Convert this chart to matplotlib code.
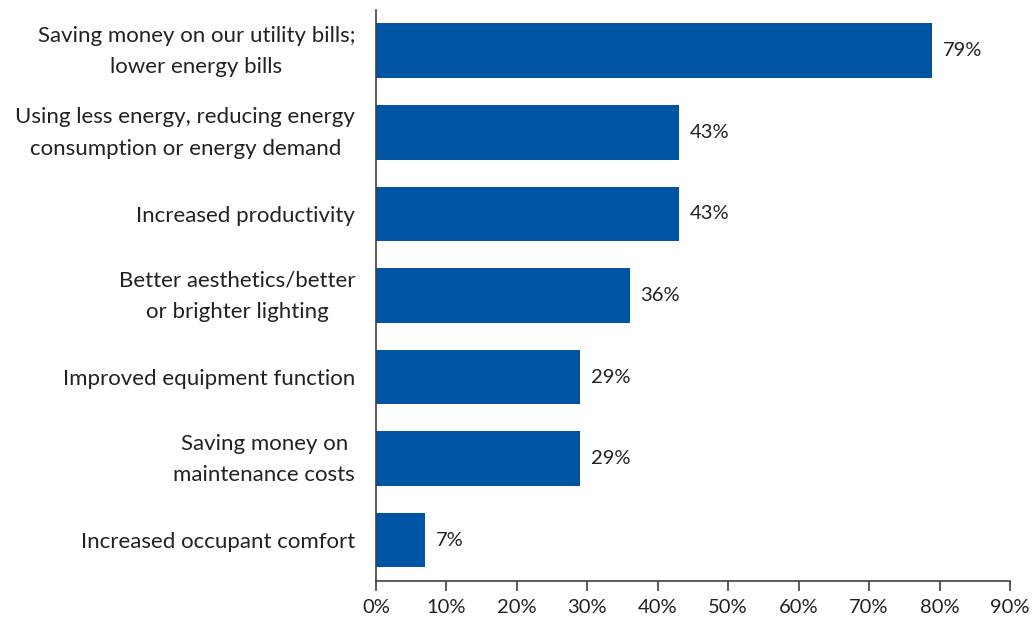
import matplotlib.pyplot as plt
from matplotlib.ticker import PercentFormatter
from matplotlib.transforms import ScaledTranslation

plt.rcParams['font.family'] = ['Lato', 'DejaVu Sans']

categories = [
    "Saving money on our utility bills;\nlower energy bills",
    "Using less energy, reducing energy\nconsumption or energy demand",
    "Increased productivity",
    "Better aesthetics/better\nor brighter lighting",
    "Improved equipment function",
    "Saving money on\nmaintenance costs",
    "Increased occupant comfort",
]
values = [79, 43, 43, 36, 29, 29, 7]
ticks = list(range(0, 100, 10))

fig = plt.figure(figsize=(10.35, 6.24), dpi=100)
ax = fig.add_axes([0.3633, 0.069, 0.6125, 0.915])

ypos = list(range(len(categories)))
bars = ax.barh(ypos, values, height=0.67, color="#0054A4")

for bar, v in zip(bars, values):
    ax.text(bar.get_width() + 1.5, bar.get_y() + bar.get_height() / 2, f"{v}%",
            va="center", ha="left", fontsize=14.5, color="#222222")

ax.set_ylim(len(categories) - 0.5, -0.5)
ax.set_xlim(0, 90)
ax.set_xticks(ticks)
ax.xaxis.set_major_formatter(PercentFormatter(decimals=0))
ax.set_yticks(ypos)
ax.set_yticklabels(categories, multialignment="center", linespacing=1.7)

for side in ("top", "right"):
    ax.spines[side].set_visible(False)
for side in ("left", "bottom"):
    ax.spines[side].set_color("#404040")
    ax.spines[side].set_linewidth(1.2)

ax.tick_params(axis="y", length=0, pad=15, labelsize=16, labelcolor="#222222")
ax.tick_params(axis="x", length=7, width=1.2, color="#404040", pad=6,
               labelsize=14.5, labelcolor="#222222")

# two-line labels sit a little low with va='center'; nudge them up
nudge = ScaledTranslation(0, 5 / 72, fig.dpi_scale_trans)
for tick in ax.yaxis.get_major_ticks():
    if "\n" in tick.label1.get_text():
        tick.label1.set_transform(tick.label1.get_transform() + nudge)

fig.savefig("out.png", dpi=100, facecolor="white")
